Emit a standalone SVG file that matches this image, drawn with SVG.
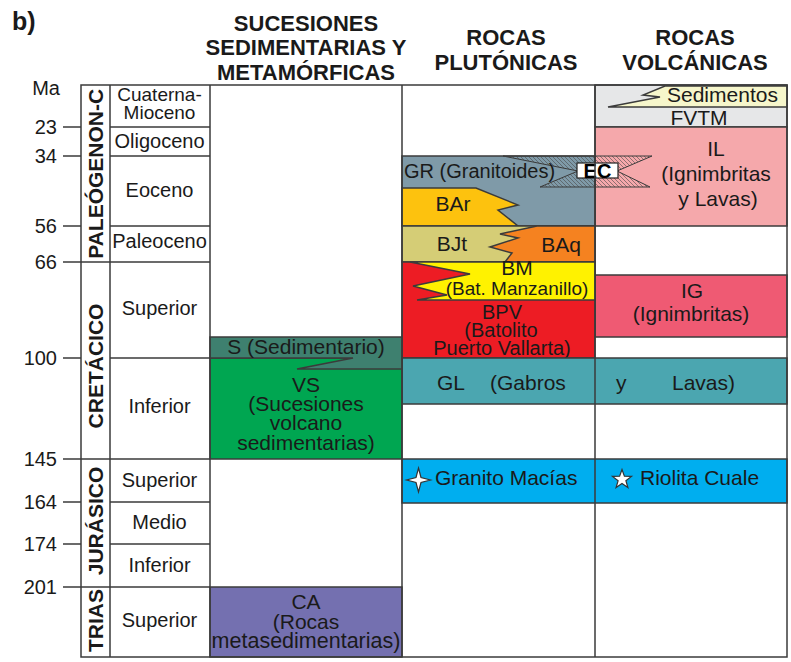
<svg xmlns="http://www.w3.org/2000/svg" width="791" height="662" viewBox="0 0 791 662">
<defs>
<style>
.ln{stroke:#3b3b3b;stroke-width:1.5;fill:none}
.c{stroke:#3b3b3b;stroke-width:1.5}
.t{font-family:"Liberation Sans",Arial,sans-serif;font-size:21px;fill:#1a1a1a;text-anchor:middle}
.s{text-anchor:start}
.ep{font-size:20px}
.h{font-weight:bold;font-size:22px}
.era{font-weight:bold;font-size:21px}
.ma{font-size:20px;text-anchor:end}
.c3{font-size:21px}
.m{font-size:20px}
</style>
<pattern id="hatch" patternUnits="userSpaceOnUse" width="4" height="4">
<path d="M-1,-1 L5,5 M3,-1 L5,1 M-1,3 L1,5" stroke="#4a4a4a" stroke-width="0.6"/>
</pattern>
</defs>
<rect width="791" height="662" fill="#fff"/>

<text class="t" x="12" y="30" style="text-anchor:start;font-weight:bold;font-size:25px">b)</text>

<g id="headers">
<text class="t h" x="306" y="31">SUCESIONES</text>
<text class="t h" x="306" y="55">SEDIMENTARIAS Y</text>
<text class="t h" x="306" y="80">METAMÓRFICAS</text>
<text class="t h" x="506" y="45">ROCAS</text>
<text class="t h" x="506" y="70">PLUTÓNICAS</text>
<text class="t h" x="695" y="45">ROCAS</text>
<text class="t h" x="695" y="70">VOLCÁNICAS</text>
</g>

<g id="volcanic">
<g id="fvtm"><rect class="c" x="595" y="85" width="192" height="42" fill="#e6e7e8"/>
<text class="t" x="699" y="125">FVTM</text></g>
<g id="sedimentos"><polygon class="c" points="665,86 787,86 787,107 608,107 660,97 643,95" fill="#f6f6cb"/>
<text class="t s" x="667" y="102">Sedimentos</text></g>
<g id="il"><rect class="c" x="595" y="127" width="192" height="99" fill="#f5a8ab"/></g>
<g id="ig"><rect class="c" x="595" y="275" width="192" height="62" fill="#ef5a73"/>
<text class="t" x="692" y="298">IG</text>
<text class="t" x="691" y="321">(Ignimbritas)</text></g>
</g>

<g id="plutonic">
<g id="gr"><rect class="c" x="402" y="156" width="193" height="70" fill="#7f9aa8"/></g>
<g id="bar"><polygon class="c" points="402,188 476,188 518,205 498,210 518,226 402,226" fill="#fdc20e"/>
<text class="t" x="453" y="211">BAr</text></g>
<g id="bjt"><rect class="c" x="402" y="226" width="193" height="36" fill="#d5cd76"/>
<text class="t" x="452" y="251">BJt</text></g>
<g id="baq"><polygon class="c" points="537,226 595,226 595,262 505,262 512,253 490,247 518,238 500,234" fill="#f58220"/>
<text class="t" x="561" y="252">BAq</text></g>
<g id="bpv"><rect class="c" x="402" y="262" width="193" height="96" fill="#ed1c24"/>
<text class="t m" x="502" y="319">BPV</text>
<text class="t m" x="501" y="337">(Batolito</text>
<text class="t m" x="502" y="355">Puerto Vallarta)</text></g>
<g id="bm"><polygon class="c" points="410,262 595,262 595,300 417,300 447,295 413,286 470,274" fill="#fff200"/>
<text class="t" x="517" y="275">BM</text>
<text class="t" x="517" y="295" style="font-size:19px">(Bat. Manzanillo)</text></g>
</g>

<g id="ec-zone">
<polygon points="503,156 652,156 617,171 650,187 540,187 578,171" fill="url(#hatch)" stroke="#3b3b3b" stroke-width="1"/>
<line class="ln" x1="595" y1="156" x2="595" y2="187"/>
<rect x="577" y="163" width="41" height="15" fill="#fff" stroke="#222" stroke-width="1.2"/>
<text class="t" x="597.5" y="178" style="font-weight:bold;font-size:20px;fill:#000">EC</text>
<text class="t s" x="404" y="178" style="font-size:20px">GR (Granitoides)</text>
<text class="t" x="716" y="156">IL</text>
<text class="t" x="716" y="181">(Ignimbritas</text>
<text class="t" x="718" y="206">y Lavas)</text>
</g>

<g id="gl"><rect class="c" x="402" y="358" width="385" height="46" fill="#4ba6b0"/>
<text class="t s" x="437" y="390">GL</text>
<text class="t s" x="490" y="390">(Gabros</text>
<text class="t s" x="616" y="390">y</text>
<text class="t s" x="672" y="390">Lavas)</text></g>

<g id="jurassic-units"><rect class="c" x="402" y="459" width="385" height="44" fill="#00aeef"/>
<g id="granito-macias">
<path d="M418.5,468 L421,477.5 L430.5,480 L421,482.5 L418.5,492 L416,482.5 L406.5,480 L416,477.5 Z" fill="#fff" stroke="#333" stroke-width="1.2"/>
<text class="t s" x="435" y="485">Granito Macías</text></g>
<g id="riolita-cuale">
<path d="M622,469.5 L624.4,476.2 L631.5,476.4 L625.9,480.7 L627.9,487.5 L622,483.5 L616.1,487.5 L618.1,480.7 L612.5,476.4 L619.6,476.2 Z" fill="#fff" stroke="#333" stroke-width="1.2"/>
<text class="t s" x="640" y="485">Riolita Cuale</text></g>
</g>

<g id="sedimentary">
<g id="vs"><rect class="c" x="210" y="358" width="192" height="101" fill="#00a651"/>
<text class="t c3" x="306" y="392">VS</text>
<text class="t c3" x="306" y="411">(Sucesiones</text>
<text class="t c3" x="306" y="430">volcano</text>
<text class="t c3" x="306" y="450">sedimentarias)</text></g>
<g id="s"><polygon class="c" points="210,337 402,337 402,369 297,369 353,358 210,358" fill="#3e806f"/>
<text class="t c3" x="306" y="354">S (Sedimentario)</text></g>
<g id="ca"><rect class="c" x="210" y="587" width="192" height="70" fill="#7470b0"/>
<text class="t c3" x="306" y="609">CA</text>
<text class="t c3" x="306" y="629">(Rocas</text>
<text class="t c3" x="306" y="648" style="font-size:21.5px">metasedimentarias)</text></g>
</g>

<g id="grid">
<rect class="ln" x="81" y="85" width="706" height="572"/>
<path class="ln" d="M110,85 V657 M210,85 V657 M402,85 V657 M595,85 V657"/>
<path class="ln" d="M63,127 H81 M63,156 H81 M63,226 H81 M63,262 H110 M63,358 H81 M63,459 H110 M63,502 H81 M63,544 H81 M63,587 H110"/>
<path class="ln" d="M110,127 H210 M110,156 H210 M110,226 H210 M110,262 H210 M110,358 H210 M110,459 H210 M110,502 H210 M110,544 H210 M110,587 H210"/>
</g>

<g id="time-scale">
<text class="t ma" x="60" y="95">Ma</text>
<text class="t ma" x="57" y="134">23</text>
<text class="t ma" x="57" y="163">34</text>
<text class="t ma" x="57" y="233">56</text>
<text class="t ma" x="57" y="269">66</text>
<text class="t ma" x="57" y="365">100</text>
<text class="t ma" x="57" y="466">145</text>
<text class="t ma" x="57" y="509">164</text>
<text class="t ma" x="57" y="551">174</text>
<text class="t ma" x="57" y="594">201</text>
</g>

<g id="eras">
<text class="t era" transform="translate(103,107.5) rotate(-90)">N-C</text>
<text class="t era" transform="translate(103,192.5) rotate(-90)">PALEÓGENO</text>
<text class="t era" transform="translate(103,366) rotate(-90)">CRETÁCICO</text>
<text class="t era" transform="translate(103,521) rotate(-90)">JURÁSICO</text>
<text class="t era" transform="translate(103,620.5) rotate(-90)">TRIAS</text>
</g>

<g id="epochs">
<text class="t" x="159.5" y="101" style="font-size:19px">Cuaterna-</text>
<text class="t" x="159.5" y="119" style="font-size:19px">Mioceno</text>
<text class="t ep" x="159.5" y="148">Oligoceno</text>
<text class="t ep" x="159.5" y="197">Eoceno</text>
<text class="t ep" x="159.5" y="248">Paleoceno</text>
<text class="t ep" x="159.5" y="315">Superior</text>
<text class="t ep" x="159.5" y="413">Inferior</text>
<text class="t ep" x="159.5" y="487">Superior</text>
<text class="t ep" x="159.5" y="529">Medio</text>
<text class="t ep" x="159.5" y="572">Inferior</text>
<text class="t ep" x="159.5" y="627">Superior</text>
</g>
</svg>
